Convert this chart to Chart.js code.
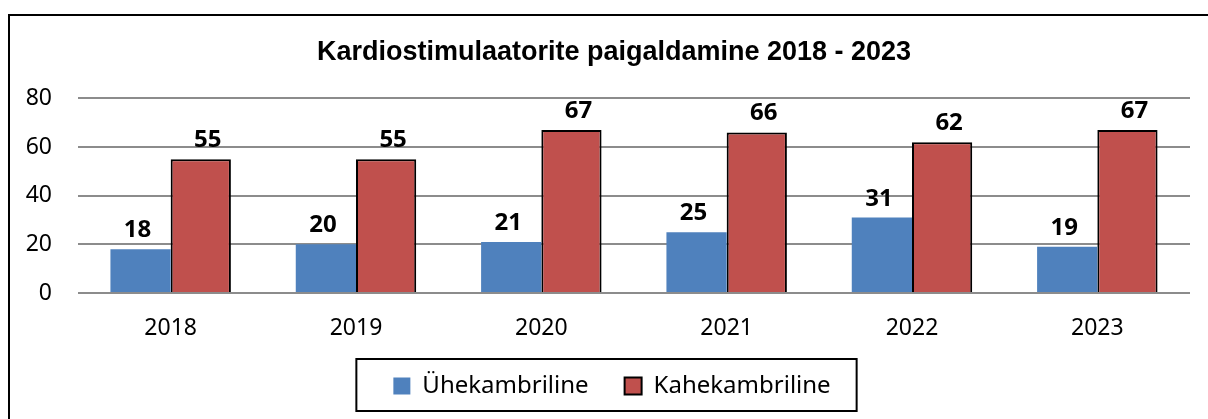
<!DOCTYPE html>
<html lang="et">
<head>
    <meta charset="UTF-8">
    <title>Kardiostimulaatorite paigaldamine 2018 - 2023</title>
    <script src="https://cdn.jsdelivr.net/npm/chart.js"></script>
    <style>
        html, body { margin: 0; padding: 0; background: #fff; }
        #wrap { width: 1208px; height: 419px; }
    </style>
</head>
<body>
<div id="wrap"><canvas id="graph" width="1208" height="419"></canvas></div>
<script>
    const years = ['2018', '2019', '2020', '2021', '2022', '2023'];
    const uhekambriline = [18, 20, 21, 25, 31, 19];
    const kahekambriline = [55, 55, 67, 66, 62, 67];
    const yTicks = [0, 20, 40, 60, 80];

    const BLUE = '#4F81BD';
    const RED = '#C0504D';
    const GRID = '#8C8C8C';

    // outer frame of the chart object (cut by the picture at right and bottom)
    const framePlugin = {
        id: 'frame',
        afterLayout(chart) {
            // title and legend sit a little right of the canvas centre in the original
            const lg = chart.legend;
            lg.left += 12;
            lg.right += 12;
            const tb = chart.titleBlock;
            tb.left += 14;
            tb.right += 14;
        },
        beforeDraw(chart) {
            const ctx = chart.ctx;
            ctx.save();
            ctx.fillStyle = '#fff';
            ctx.fillRect(0, 0, chart.width, chart.height);
            ctx.strokeStyle = '#000';
            ctx.lineWidth = 2;
            ctx.strokeRect(9, 15, chart.width + 20, chart.height + 20);
            ctx.restore();
        }
    };

    // box around the legend items
    const legendBoxPlugin = {
        id: 'legendBox',
        afterDraw(chart) {
            const boxes = chart.legend.legendHitBoxes;
            if (!boxes || !boxes.length) return;
            const first = boxes[0];
            const last = boxes[boxes.length - 1];
            const mid = first.top + first.height / 2;
            const ctx = chart.ctx;
            ctx.save();
            ctx.strokeStyle = '#000';
            ctx.lineWidth = 2;
            ctx.strokeRect(first.left - 37, mid - 27, last.left + last.width - first.left + 63, 52);
            ctx.restore();
        }
    };

    // bold value labels above the bars
    const valueLabels = {
        id: 'valueLabels',
        afterDatasetsDraw(chart) {
            const ctx = chart.ctx;
            ctx.save();
            ctx.font = 'bold 24px "Noto Sans", sans-serif';
            ctx.fillStyle = '#000';
            ctx.textAlign = 'center';
            ctx.textBaseline = 'alphabetic';
            chart.data.datasets.forEach((ds, i) => {
                const meta = chart.getDatasetMeta(i);
                meta.data.forEach((bar, j) => {
                    const dx = i === 1 ? 7 : -3;
                    ctx.fillText(ds.data[j], bar.x + dx, bar.y - 12);
                });
            });
            ctx.restore();
        }
    };

    window.onload = function() {
        const ctx = document.getElementById('graph').getContext('2d');
        new Chart(ctx, {
            type: 'bar',
            data: {
                labels: years,
                datasets: [{
                    label: 'Ühekambriline',
                    data: uhekambriline,
                    backgroundColor: BLUE,
                    borderWidth: 0
                }, {
                    label: 'Kahekambriline',
                    data: kahekambriline,
                    backgroundColor: RED,
                    borderColor: '#000',
                    borderWidth: 2
                }]
            },
            options: {
                responsive: false,
                animation: false,
                layout: { padding: { left: 10, right: 18, top: 16, bottom: 11 } },
                datasets: { bar: { categoryPercentage: 0.65, barPercentage: 1.0 } },
                plugins: {
                    title: {
                        display: true,
                        text: 'Kardiostimulaatorite paigaldamine 2018 - 2023',
                        color: '#000',
                        font: { family: '"Liberation Sans", Arial, sans-serif', size: 27, weight: 'bold' },
                        padding: { top: 20, bottom: 30 }
                    },
                    legend: {
                        position: 'bottom',
                        labels: {
                            color: '#000',
                            font: { family: '"Noto Sans", sans-serif', size: 24 },
                            boxWidth: 17,
                            boxHeight: 17,
                            padding: 36
                        }
                    },
                    tooltip: { enabled: false }
                },
                scales: {
                    x: {
                        grid: { display: false, drawTicks: false },
                        border: { display: false },
                        ticks: { color: '#000', font: { family: '"Noto Sans", sans-serif', size: 23 }, padding: 22 },
                        afterFit(s) { s.height = 45; }
                    },
                    y: {
                        min: 0,
                        max: 80,
                        afterBuildTicks(s) { s.ticks = yTicks.map(v => ({ value: v })); },
                        grid: { color: GRID, lineWidth: 2, drawTicks: false },
                        border: { display: false },
                        ticks: { color: '#000', font: { family: '"Noto Sans", sans-serif', size: 23 }, padding: 26 },
                        afterFit(s) { s.width = 68; }
                    }
                }
            },
            plugins: [framePlugin, legendBoxPlugin, valueLabels]
        });
    };
</script>
</body>
</html>
